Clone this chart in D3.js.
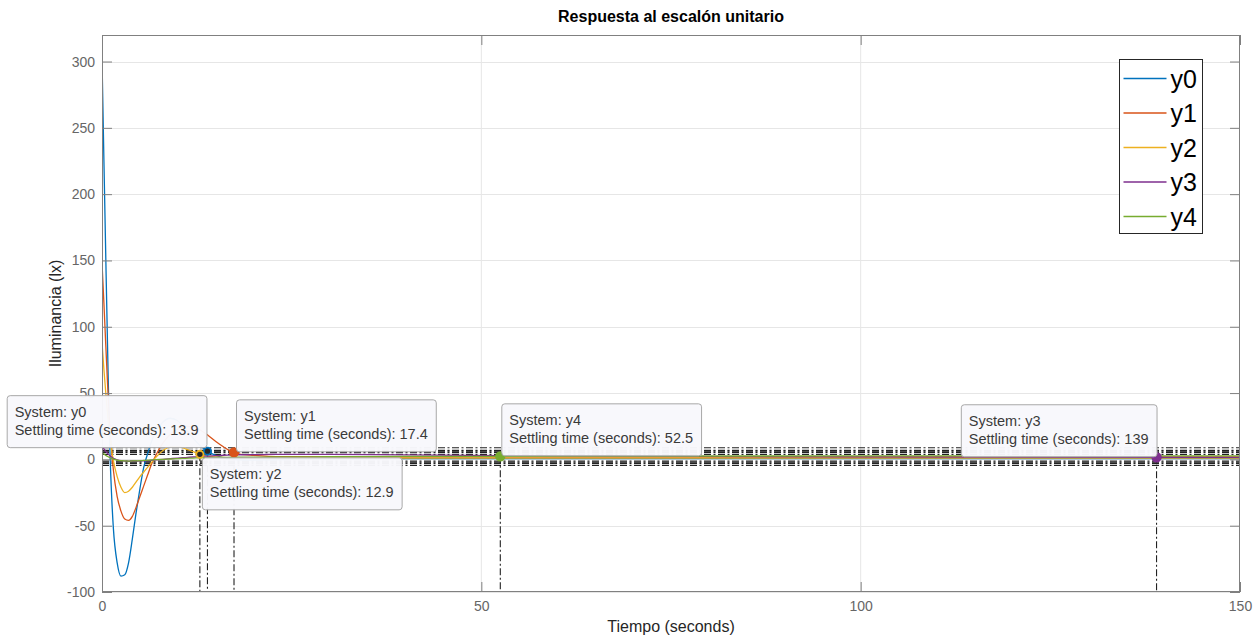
<!DOCTYPE html>
<html>
<head>
<meta charset="utf-8">
<script src="https://cdn.jsdelivr.net/npm/d3@7"></script>
<style>
  body { margin: 0; background: #fff; }
  svg { font-family: "Liberation Sans", Arial, Helvetica, sans-serif; }
</style>
</head>
<body>
<svg id="chart" width="1258" height="636"></svg>
<script>
// ---- data -------------------------------------------------------------
const seriesNames  = ["y0", "y1", "y2", "y3", "y4"];
const seriesColors = ["#0072BD", "#D95319", "#EDB120", "#7E2F8E", "#77AC30"];

const time = [0, 0.25, 0.5, 0.75, 1, 1.25, 1.5, 2, 2.5, 3, 3.5, 4, 4.5, 5, 5.5, 6, 6.5, 7,
              8, 9, 10, 11, 12, 13, 14, 15, 16, 17, 18, 20, 22, 25, 30, 40, 52.5, 70, 100, 139, 150];

const y0 = [302, 226, 152, 80, 15, -25, -52, -78, -88, -87, -78, -60, -40, -22, -6, 4, 13, 20,
            28, 31, 29, 23, 16, 10, 5.8, 3, 1.2, 0.2, -0.3, -0.5, -0.3, 0, 0.3, 0.5, 0.6, 0.6, 0.6, 0.6, 0.6];
const y1 = [148, 118, 86, 55, 28, 8, -8, -28, -39, -45, -46, -43, -36, -28, -20, -12, -4, 2,
            12, 19, 23, 25, 24.5, 22, 18, 13.5, 9.5, 6.0, 4.2, 3, 2.3, 2, 1.8, 1.8, 1.8, 1.8, 1.8, 1.8, 1.8];
const y2 = [88, 68, 50, 33, 19, 8, -1, -13, -21, -25, -24, -21, -17, -13, -9.5, -6, -2.5, 1,
            6.5, 9.5, 9.8, 8, 5.8, 3.7, 2.5, 1.8, 1.4, 1.2, 1.1, 1, 1, 1, 1, 1, 1, 1, 1, 1, 1];
const y3 = [10, 8, 6, 4.5, 3, 1.8, 0.8, -0.3, -1, -1.3, -1.4, -1.4, -1.3, -1.2, -1.1, -1, -0.7, -0.4,
            0, 0.5, 1, 1.4, 1.8, 2.2, 2.5, 2.8, 3.1, 3.3, 3.5, 3.6, 3.7, 3.8, 3.8, 3.4, 2.9, 2.4, 1.9, 1.6, 1.5];
const y4 = [5, 4, 3, 2.2, 1.5, 0.8, 0.2, -0.5, -1, -1.2, -1.3, -1.2, -1.1, -1, -0.8, -0.6, -0.4, -0.2,
            0, 0.3, 0.6, 0.8, 1, 1.2, 1.3, 1.4, 1.5, 1.6, 1.65, 1.7, 1.8, 1.9, 2, 2.2, 2.3, 2.5, 2.6, 2.6, 2.6];
const seriesValues = [y0, y1, y2, y3, y4];

// settling-time annotations, one per system
const settleTimes  = [13.9, 17.4, 12.9, 139, 52.5];
const settleValues = [6.2, 5.3, 3.8, 1.6, 2.3];
const settleLabels = ["13.9", "17.4", "12.9", "139", "52.5"];
// settling band limits (dash-dot guides)
const bandLevels = [8.8, 6.8, 6.2, 5.3, 3.8, -1.3, -2.2, -3.0, -4.5];

const xTicks = [0, 50, 100, 150];
const yTicks = [-100, -50, 0, 50, 100, 150, 200, 250, 300];

// ---- layout -----------------------------------------------------------
const plot = { left: 102, right: 1240, top: 35, bottom: 592 };
const svg = d3.select("#chart");

const x = d3.scaleLinear().domain([0, 150]).range([plot.left, plot.right]);
const y = d3.scaleLinear().domain([-100, 320]).range([plot.bottom, plot.top]);

const axisGray = "#808080";
const tickText = "#666666";
const gridGray = "#e6e6e6";
const dashDot = "7,2.5,2,2.5";

// background
svg.append("rect").attr("x", plot.left).attr("y", plot.top)
  .attr("width", plot.right - plot.left).attr("height", plot.bottom - plot.top)
  .attr("fill", "#fff");

// grid
const grid = svg.append("g");
grid.selectAll(".gx").data(xTicks.slice(1, -1)).join("line")
  .attr("x1", d => x(d)).attr("x2", d => x(d))
  .attr("y1", plot.top).attr("y2", plot.bottom)
  .attr("stroke", gridGray).attr("stroke-width", 1);
grid.selectAll(".gy").data(yTicks).join("line")
  .attr("x1", plot.left).attr("x2", plot.right)
  .attr("y1", d => Math.round(y(d)) + 0.5).attr("y2", d => Math.round(y(d)) + 0.5)
  .attr("stroke", gridGray).attr("stroke-width", 1);

// clip region for data
svg.append("clipPath").attr("id", "plotClip").append("rect")
  .attr("x", plot.left).attr("y", plot.top)
  .attr("width", plot.right - plot.left).attr("height", plot.bottom - plot.top);
const area = svg.append("g").attr("clip-path", "url(#plotClip)");

// settling bands
area.selectAll(".band").data(bandLevels).join("line")
  .attr("x1", plot.left).attr("x2", plot.right)
  .attr("y1", d => y(d)).attr("y2", d => y(d))
  .attr("stroke", "#222").attr("stroke-width", 1.1)
  .attr("stroke-dasharray", dashDot);

// vertical settling-time guides
area.selectAll(".vguide").data(settleTimes).join("line")
  .attr("x1", d => x(d)).attr("x2", d => x(d))
  .attr("y1", (d, i) => y(settleValues[i])).attr("y2", plot.bottom)
  .attr("stroke", "#222").attr("stroke-width", 1.1)
  .attr("stroke-dasharray", dashDot);

// response curves
const line = d3.line()
  .x((d, i) => x(time[i]))
  .y(d => y(d))
  .curve(d3.curveMonotoneX);
area.selectAll(".curve").data(seriesValues).join("path")
  .attr("d", d => line(d))
  .attr("fill", "none")
  .attr("stroke", (d, i) => seriesColors[i])
  .attr("stroke-width", 1.3);

// settling markers
const ringed = new Set([0, 2]);
svg.selectAll(".marker").data(settleTimes).join("circle")
  .attr("cx", d => x(d))
  .attr("cy", (d, i) => y(settleValues[i]))
  .attr("r", (d, i) => ringed.has(i) ? 3.6 : 5.2)
  .attr("fill", (d, i) => ringed.has(i) ? "#262626" : seriesColors[i])
  .attr("stroke", (d, i) => ringed.has(i) ? seriesColors[i] : "none")
  .attr("stroke-width", 1.8);

// frame
svg.append("rect")
  .attr("x", plot.left + 0.5).attr("y", plot.top + 0.5)
  .attr("width", plot.right - plot.left - 1).attr("height", plot.bottom - plot.top - 1)
  .attr("fill", "none").attr("stroke", axisGray).attr("stroke-width", 1);

// axes (inward ticks on all four sides)
const tickLen = 10;
const xAxisB = d3.axisBottom(x).tickValues(xTicks).tickSize(-tickLen).tickPadding(9).tickFormat(d3.format("d"));
const xAxisT = d3.axisTop(x).tickValues(xTicks).tickSize(-tickLen).tickFormat("");
const yAxisL = d3.axisLeft(y).tickValues(yTicks).tickSize(-tickLen).tickPadding(7).tickFormat(d => d3.format("d")(d).replace("−", "-"));
const yAxisR = d3.axisRight(y).tickValues(yTicks).tickSize(-tickLen).tickFormat("");

function styleAxis(g) {
  g.select(".domain").remove();
  g.selectAll(".tick line").attr("stroke", axisGray);
  g.selectAll(".tick text").attr("fill", tickText).attr("font-size", 14)
    .attr("font-family", "Liberation Sans, Arial, sans-serif");
}
svg.append("g").attr("transform", `translate(0,${plot.bottom})`).call(xAxisB).call(styleAxis);
svg.append("g").attr("transform", `translate(0,${plot.top})`).call(xAxisT).call(styleAxis);
svg.append("g").attr("transform", `translate(${plot.left},0)`).call(yAxisL).call(styleAxis);
svg.append("g").attr("transform", `translate(${plot.right},0)`).call(yAxisR).call(styleAxis);

// titles
svg.append("text").attr("x", (plot.left + plot.right) / 2).attr("y", 22)
  .attr("text-anchor", "middle").attr("font-size", 16).attr("font-weight", "bold")
  .attr("fill", "#000").text("Respuesta al escalón unitario");
svg.append("text").attr("x", (plot.left + plot.right) / 2).attr("y", 632)
  .attr("text-anchor", "middle").attr("font-size", 16)
  .attr("fill", "#262626").text("Tiempo (seconds)");
svg.append("text")
  .attr("transform", `translate(61,${(plot.top + plot.bottom) / 2}) rotate(-90)`)
  .attr("text-anchor", "middle").attr("font-size", 16)
  .attr("fill", "#262626").text("Iluminancia (lx)");

// data tips
// placement relative to the marker: [horizontal side, vertical side, dx, dy]
const tipPlacement = [
  ["left",  "above", -1, -4],
  ["right", "above",  2, -1],
  ["right", "below",  2,  3],
  ["left",  "above",  0, -1],
  ["right", "above",  1, -1]
];
const tipFont = 14.5, tipPadX = 8, tipH = 52;
const tips = svg.append("g");
settleTimes.forEach((t, i) => {
  const mx = x(t), my = y(settleValues[i]);
  const g = tips.append("g");
  const l1 = g.append("text").attr("font-size", tipFont).attr("fill", "#3a3a3a")
    .text("System: " + seriesNames[i]);
  const l2 = g.append("text").attr("font-size", tipFont).attr("fill", "#3a3a3a")
    .text("Settling time (seconds): " + settleLabels[i]);
  const tw = Math.max(l1.node().getComputedTextLength(), l2.node().getComputedTextLength());
  const bw = tw + tipPadX * 2;
  const [hs, vs, dx, dy] = tipPlacement[i];
  const bx = hs === "left" ? mx + dx - bw : mx + dx;
  const by = vs === "above" ? my + dy - tipH : my + dy;
  g.insert("rect", "text")
    .attr("x", bx + 0.5).attr("y", by + 0.5).attr("width", bw).attr("height", tipH)
    .attr("rx", 3).attr("ry", 3)
    .attr("fill", "#f8f8fc").attr("fill-opacity", 0.97)
    .attr("stroke", "#a8a8a8").attr("stroke-width", 1);
  l1.attr("x", bx + tipPadX).attr("y", by + 22);
  l2.attr("x", bx + tipPadX).attr("y", by + 40);
});

// legend
const leg = svg.append("g");
const legX = 1119.5, legY = 59.5, legW = 83, legRow = 34.5;
leg.append("rect").attr("x", legX).attr("y", legY).attr("width", legW).attr("height", 174)
  .attr("fill", "#fff").attr("stroke", "#262626").attr("stroke-width", 1);
seriesNames.forEach((name, i) => {
  const cy = legY + 19 + i * legRow;
  leg.append("line").attr("x1", legX + 4).attr("x2", legX + 47)
    .attr("y1", cy).attr("y2", cy)
    .attr("stroke", seriesColors[i]).attr("stroke-width", 1.4);
  leg.append("text").attr("x", legX + 51).attr("y", cy + 9)
    .attr("font-size", 25).attr("fill", "#000").text(name);
});
</script>
</body>
</html>
